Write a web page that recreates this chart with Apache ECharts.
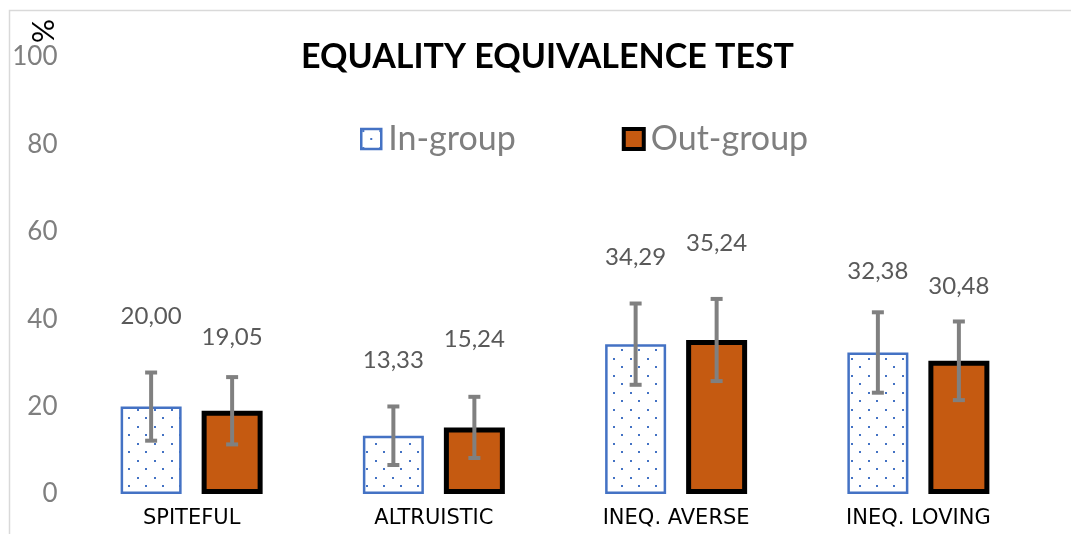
<!DOCTYPE html>
<html>
<head>
<meta charset="utf-8">
<script src="https://cdn.jsdelivr.net/npm/echarts@6/dist/echarts.min.js"></script>
<style>
  html, body { margin: 0; padding: 0; background: #fff; }
  #chart { width: 1071px; height: 534px; }
</style>
</head>
<body>
<div id="chart"></div>
<script>
// values (%)
const categories = ['SPITEFUL', 'ALTRUISTIC', 'INEQ. AVERSE', 'INEQ. LOVING'];
const inGroup = [20.00, 13.33, 34.29, 32.38];
const outGroup = [19.05, 15.24, 35.24, 30.48];
// error bar half widths (estimated)
const inGroupErr = [7.8, 6.7, 9.3, 9.2];
const outGroupErr = [7.7, 7.0, 9.4, 9.0];
const yTicks = { min: 0, max: 100, step: 20 };

// label lift above bar top in px (layout only, labels were hand placed in the original)
const inLabelLift = [90, 75, 87, 81];
const outLabelLift = [73, 88, 97, 75];

const barW = 61;
const gapPx = 20;
const shift = (barW + gapPx) / 2;

// dotted fill for the in-group bars
const tile = document.createElement('canvas');
tile.width = 17;
tile.height = 17;
const tctx = tile.getContext('2d');
tctx.fillStyle = '#ffffff';
tctx.fillRect(0, 0, 17, 17);
tctx.fillStyle = '#4472C4';
tctx.fillRect(1, 1, 2, 2);
tctx.fillRect(9, 9, 2, 2);

function fmt(v) {
    return v.toFixed(2).replace('.', ',');
}

function withLabels(values, lift) {
    return values.map((v, i) => ({
        value: v,
        label: { offset: [0, -(lift[i] - 12)] }
    }));
}

function errItem(dx) {
    return function (params, api) {
        const i = api.value(0);
        const v = api.value(1);
        const e = api.value(2);
        const top = api.coord([i, v + e]);
        const bot = api.coord([i, v - e]);
        const x = top[0] + dx;
        const st = { stroke: '#808080', lineWidth: 4 };
        return {
            type: 'group',
            children: [
                { type: 'line', shape: { x1: x, y1: top[1], x2: x, y2: bot[1] }, style: st },
                { type: 'line', shape: { x1: x - 6, y1: top[1], x2: x + 6, y2: top[1] }, style: st },
                { type: 'line', shape: { x1: x - 6, y1: bot[1], x2: x + 6, y2: bot[1] }, style: st }
            ]
        };
    };
}

const labelStyle = {
    show: true,
    position: 'top',
    distance: 0,
    color: '#595959',
    fontFamily: 'Lato',
    fontSize: 24,
    formatter: p => fmt(p.value)
};

const chart = echarts.init(document.getElementById('chart'));
chart.setOption({
    animation: false,
    backgroundColor: '#ffffff',
    title: {
        text: 'EQUALITY EQUIVALENCE TEST',
        left: 296,
        top: 35,
        textStyle: {
            fontFamily: 'Lato',
            fontWeight: 'bold',
            fontSize: 34,
            color: '#000000'
        }
    },
    legend: {
        left: 355,
        top: 117,
        icon: 'rect',
        itemWidth: 20,
        itemHeight: 20,
        itemGap: 106,
        textStyle: {
            fontFamily: 'Lato',
            fontSize: 34,
            color: '#7f7f7f',
            padding: [0, 0, 0, 2]
        },
        data: [
            { name: 'In-group', itemStyle: { borderWidth: 2.5 } },
            { name: 'Out-group', itemStyle: { borderWidth: 4 } }
        ]
    },
    graphic: [
        {
            type: 'rect',
            silent: true,
            shape: { x: 9.5, y: 10.5, width: 1200, height: 700 },
            style: { fill: 'none', stroke: '#d9d9d9', lineWidth: 1.5 }
        },
        {
            type: 'text',
            x: 42,
            y: 31,
            rotation: -Math.PI / 2,
            style: {
                text: '%',
                align: 'center',
                verticalAlign: 'middle',
                fontFamily: 'Lato',
                fontSize: 30,
                fill: '#000000'
            }
        }
    ],
    grid: {
        left: 70.5,
        right: 31.5,
        top: 57,
        bottom: 40
    },
    xAxis: {
        type: 'category',
        data: categories,
        axisLine: { show: false },
        axisTick: { show: false },
        splitLine: { show: false },
        axisLabel: {
            color: '#000000',
            fontFamily: 'DejaVu Sans',
            fontSize: 21,
            margin: 14,
            interval: 0
        }
    },
    yAxis: {
        type: 'value',
        min: yTicks.min,
        max: yTicks.max,
        interval: yTicks.step,
        axisLine: { show: false },
        axisTick: { show: false },
        splitLine: { show: false },
        axisLabel: {
            color: '#7f7f7f',
            fontFamily: 'Lato',
            fontSize: 26,
            margin: 13
        }
    },
    series: [
        {
            name: 'In-group',
            type: 'bar',
            barWidth: barW,
            barGap: (gapPx / barW * 100) + '%',
            data: withLabels(inGroup, inLabelLift),
            itemStyle: {
                color: { image: tile, repeat: 'repeat' },
                borderColor: '#4472C4',
                borderWidth: 2.5
            },
            label: labelStyle,
            z: 2
        },
        {
            name: 'Out-group',
            type: 'bar',
            barWidth: barW,
            data: withLabels(outGroup, outLabelLift),
            itemStyle: {
                color: '#C55A11',
                borderColor: '#000000',
                borderWidth: 5
            },
            label: labelStyle,
            z: 2
        },
        {
            name: 'In-group err',
            type: 'custom',
            renderItem: errItem(-shift),
            data: inGroup.map((v, i) => [i, v, inGroupErr[i]]),
            encode: { x: 0, y: 1 },
            z: 5,
            silent: true
        },
        {
            name: 'Out-group err',
            type: 'custom',
            renderItem: errItem(shift),
            data: outGroup.map((v, i) => [i, v, outGroupErr[i]]),
            encode: { x: 0, y: 1 },
            z: 5,
            silent: true
        }
    ]
});
</script>
</body>
</html>
